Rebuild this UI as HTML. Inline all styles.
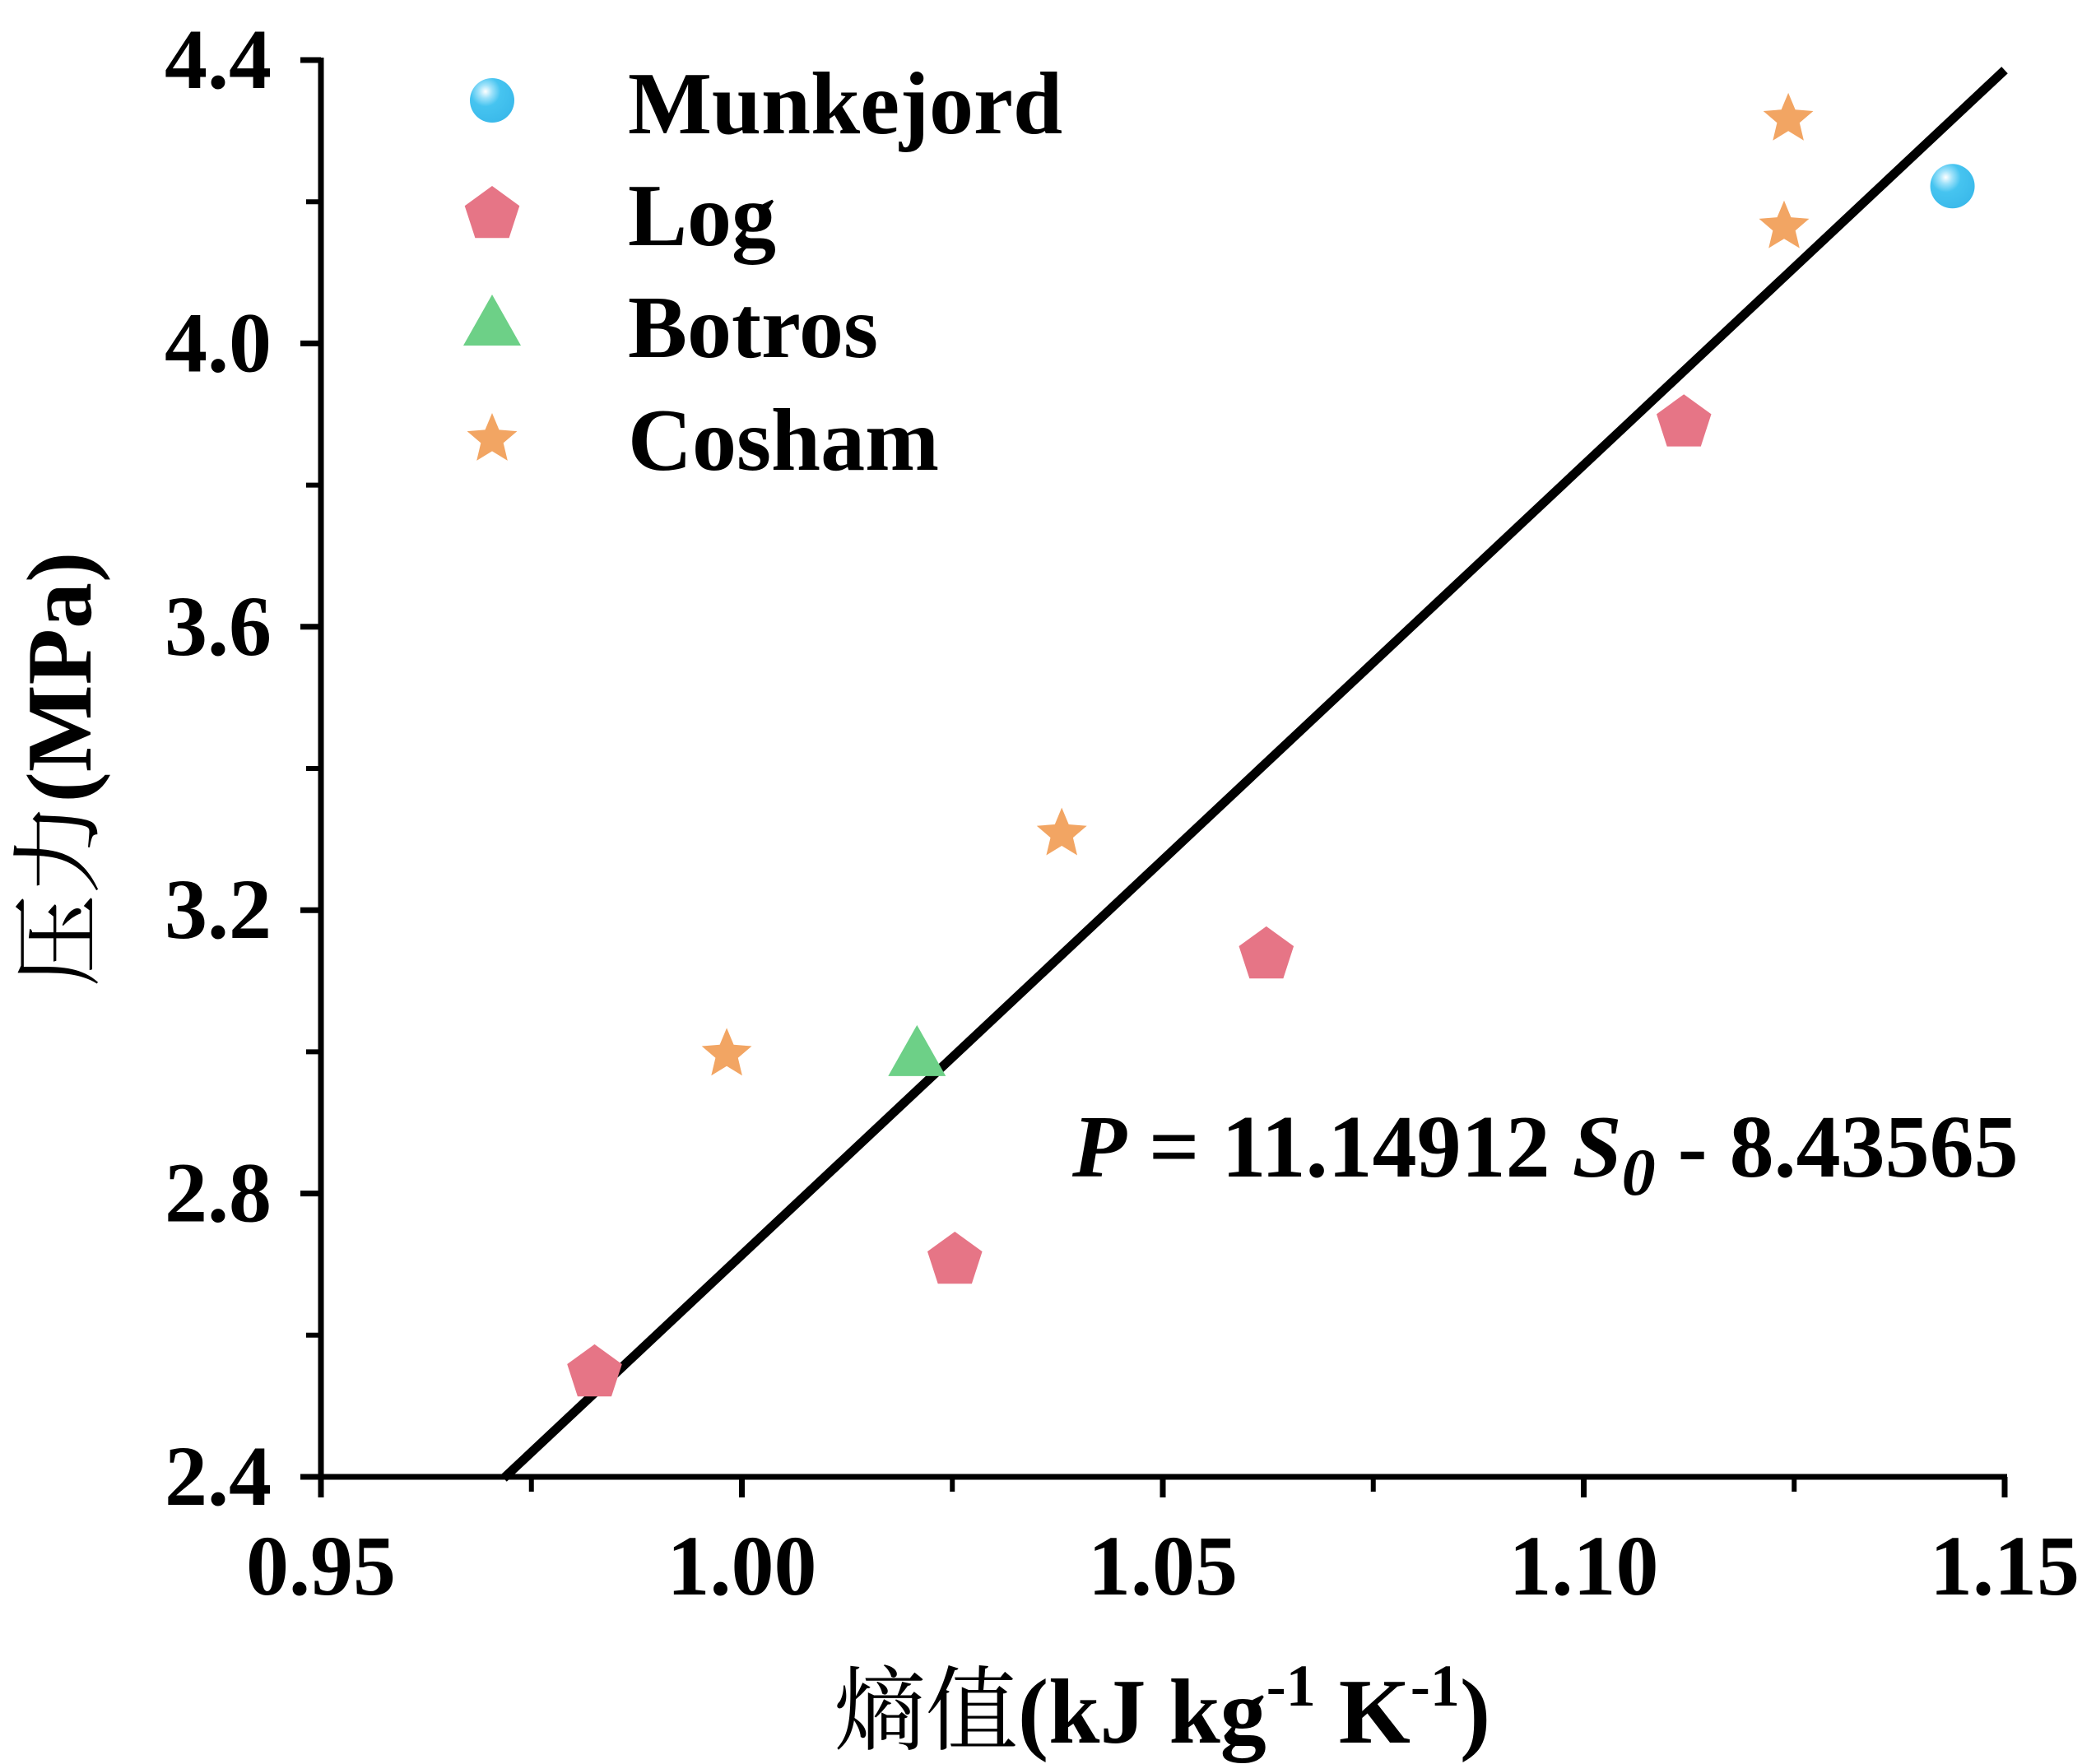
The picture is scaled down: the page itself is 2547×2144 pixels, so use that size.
<!DOCTYPE html>
<html><head><meta charset="utf-8"><style>
html,body{margin:0;padding:0;background:#fff;}
svg{display:block;}
text{font-family:"Liberation Serif","Noto Serif CJK SC",serif;font-weight:bold;fill:#000;}
</style></head><body>
<svg id="chart" width="2547" height="2144" viewBox="0 0 2547 2144" xmlns="http://www.w3.org/2000/svg">
<defs>
<radialGradient id="ball" cx="0.35" cy="0.3" r="0.75">
<stop offset="0" stop-color="#ffffff"/><stop offset="0.2" stop-color="#9fe2fa"/><stop offset="0.45" stop-color="#46c4f0"/><stop offset="1" stop-color="#3ab9ea"/>
</radialGradient>
</defs>
<g id="marks"></g>
<g id="axes"></g>
<g id="legend"></g>
<text x="1303" y="1430" font-size="108"><tspan font-style="italic">P</tspan> = 11.14912 <tspan font-style="italic">S</tspan><tspan font-style="italic" font-size="82" dy="22">0</tspan><tspan dy="-22"> - 8.43565</tspan></text>
<text x="1412" y="2118" font-size="112" text-anchor="middle"><tspan font-family="Noto Serif CJK SC,serif" font-weight="normal">熵值</tspan>(kJ kg<tspan font-size="72" dy="-45">-1</tspan><tspan dy="45"> K</tspan><tspan font-size="72" dy="-45">-1</tspan><tspan dy="45">)</tspan></text>
<text x="0" y="0" font-size="112" text-anchor="middle" transform="translate(110,935) rotate(-90)"><tspan font-family="Noto Serif CJK SC,serif" font-weight="normal">压力</tspan>(MPa)</text>
</svg>
<script>
const xTicks = [0.95, 1.00, 1.05, 1.10, 1.15];
const xTickLabels = ["0.95", "1.00", "1.05", "1.10", "1.15"];
const yTicks = [2.4, 2.8, 3.2, 3.6, 4.0, 4.4];
const yTickLabels = ["2.4", "2.8", "3.2", "3.6", "4.0", "4.4"];
const munkejordX = [1.1438];
const munkejordY = [4.222];
const logX = [0.9825, 1.0253, 1.0623, 1.1119];
const logY = [2.55, 2.709, 3.14, 3.891];
const botrosX = [1.0208];
const botrosY = [2.996];
const coshamX = [0.9982, 1.0380, 1.1238, 1.1243];
const coshamY = [3.000, 3.311, 4.168, 4.320];
const fitSlope = 11.14912;
const fitIntercept = -8.43565;
const fitRange = [0.9717, 1.15];

const NS = "http://www.w3.org/2000/svg";
const X0 = 390, X1 = 2436, Y0 = 1795, Y1 = 73;
function sx(v){ return X0 + (v - 0.95) / 0.2 * (X1 - X0); }
function sy(v){ return Y0 - (v - 2.4) / 2.0 * (Y0 - Y1); }
function mk(tag, attrs, parent){ const e = document.createElementNS(NS, tag); for (const k in attrs) e.setAttribute(k, attrs[k]); parent.appendChild(e); return e; }
const axes = document.getElementById('axes');
const marks = document.getElementById('marks');
const legend = document.getElementById('legend');

const fl = mk('line', {x1: sx(fitRange[0]), y1: sy(fitSlope*fitRange[0]+fitIntercept), x2: sx(fitRange[1]), y2: sy(fitSlope*fitRange[1]+fitIntercept), stroke:'#000','stroke-width':11}, marks);



const xa = mk('line', {x1: X0-25, y1: Y0, x2: X1+3, y2: Y0, stroke:'#000','stroke-width':7}, axes);


const ya = mk('line', {x1: X0, y1: Y1-3, x2: X0, y2: Y0+25, stroke:'#000','stroke-width':7}, axes);



xTicks.forEach((v, i) => {
  const t = mk('line', {x1: sx(v), y1: Y0, x2: sx(v), y2: Y0+25, stroke:'#000','stroke-width':7}, axes);
  
  
  if (i < xTicks.length-1) {
    const m = mk('line', {x1: sx(v+0.025), y1: Y0, x2: sx(v+0.025), y2: Y0+18, stroke:'#000','stroke-width':6}, axes);
    
    
  }
  const l = mk('text', {x: sx(v), y: 1938, 'font-size': 104, 'text-anchor':'middle'}, axes);
  l.textContent = xTickLabels[i];
  
  
});
yTicks.forEach((v, i) => {
  const t = mk('line', {x1: X0-25, y1: sy(v), x2: X0, y2: sy(v), stroke:'#000','stroke-width':7}, axes);
  
  
  if (i < yTicks.length-1) {
    const m = mk('line', {x1: X0-18, y1: sy(v+0.2), x2: X0, y2: sy(v+0.2), stroke:'#000','stroke-width':6}, axes);
    
    
  }
  const l = mk('text', {x: 330, y: sy(v)+34, 'font-size': 104, 'text-anchor':'end'}, axes);
  l.textContent = yTickLabels[i];
  
  
});

function poly(cx, cy, r, n, rot, inner){
  const pts = [];
  const total = inner ? n*2 : n;
  for (let k=0;k<total;k++){
    const rr = inner ? (k%2===0 ? r : r*inner) : r;
    const a = -Math.PI/2 + k*2*Math.PI/total;
    pts.push((cx+rr*Math.cos(a)).toFixed(1)+','+(cy+rr*Math.sin(a)).toFixed(1));
  }
  return pts.join(' ');
}
function circle(cx, cy, parent){ return mk('circle', {cx, cy, r: 27, fill:'url(#ball)'}, parent); }
function pent(cx, cy, parent){ return mk('polygon', {points: poly(cx, cy+3, 35, 5), fill:'#e67586'}, parent); }
function tri(cx, cy, parent){ return mk('polygon', {points: `${cx},${cy-36} ${cx+35},${cy+26} ${cx-35},${cy+26}`, fill:'#6dd087'}, parent); }
function star(cx, cy, parent){ return mk('polygon', {points: poly(cx, cy+3, 32, 5, 0, 0.45), fill:'#f2a563'}, parent); }

munkejordX.forEach((v,i)=>{ const e = circle(sx(v), sy(munkejordY[i]), marks);
  
   });
logX.forEach((v,i)=>{ const e = pent(sx(v), sy(logY[i]), marks);
  
   });
botrosX.forEach((v,i)=>{ const e = tri(sx(v), sy(botrosY[i]), marks);
  
   });
coshamX.forEach((v,i)=>{ const e = star(sx(v), sy(coshamY[i]), marks);
  
   });

const legendNames = ["Munkejord", "Log", "Botros", "Cosham"];
const legendY = [122, 258, 394, 531];
const makers = [circle, pent, tri, star];
legendNames.forEach((n, i) => {
  const m = makers[i](598, legendY[i], legend);
  
  
  const t = mk('text', {x: 763, y: legendY[i]+40, 'font-size': 108}, legend);
  t.textContent = n;
  
  
});
</script>
</body></html>
